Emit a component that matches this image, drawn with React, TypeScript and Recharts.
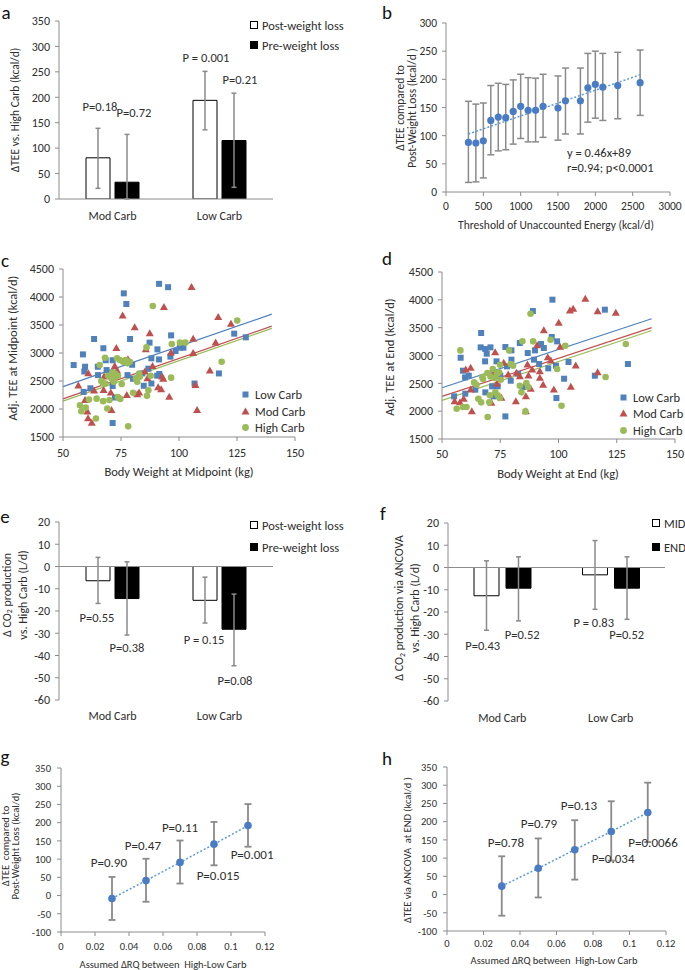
import React from "react";
import {
  BarChart,
  Bar,
  ScatterChart,
  Scatter,
  XAxis,
  YAxis,
  ErrorBar,
  ReferenceLine,
  ReferenceDot,
  Legend,
} from "recharts";

// ---------- data ----------
const CATS = ["Mod Carb", "Low Carb"];

// a: ΔTEE vs High Carb
const A_POST = [81, 194];
const A_POST_LO = [21, 136];
const A_POST_HI = [139, 251];
const A_PRE = [33, 115];
const A_PRE_LO = [0, 23];
const A_PRE_HI = [127, 208];
const A_TICKS = [0, 50, 100, 150, 200, 250, 300, 350];
const A_P = [
  { x: "Mod Carb", s: 0, y: 181, t: "P=0.18", dx: 2 },
  { x: "Mod Carb", s: 1, y: 171, t: "P=0.72", dx: 7 },
  { x: "Low Carb", s: 0, y: 279, t: "P = 0.001", dx: 1 },
  { x: "Low Carb", s: 1, y: 234, t: "P=0.21", dx: 6 },
];

// b: threshold sweep
const B_X = [300, 400, 500, 600, 700, 800, 900, 1000, 1100, 1200, 1300, 1500, 1600, 1800, 1900, 2000, 2100, 2300, 2600];
const B_Y = [88, 87, 91, 127, 133, 132, 143, 152, 145, 145, 152, 149, 162, 162, 185, 191, 186, 189, 194];
const B_LO = [17, 18, 25, 66, 73, 75, 85, 95, 89, 89, 97, 92, 103, 103, 124, 131, 127, 130, 136];
const B_HI = [161, 156, 158, 189, 193, 191, 199, 209, 203, 202, 209, 206, 220, 220, 246, 250, 246, 248, 252];
const B_TREND = [{ x: 300, y: 103 }, { x: 2600, y: 208 }];
const B_XTICKS = [0, 500, 1000, 1500, 2000, 2500, 3000];
const B_YTICKS = [0, 50, 100, 150, 200, 250, 300];
const B_NOTE = ["y = 0.46x+89", "r=0.94; p<0.0001"];

// c: midpoint
const C_LOW = [
  [54.6, 2785], [58.6, 2975], [59.5, 2755], [59.2, 2670], [58.9, 2305], [61.8, 2370], [63.4, 3250], [65, 2755],
  [65.1, 2605], [67.4, 3085], [68.4, 2870], [68.8, 2695], [71.4, 2870], [71.4, 2410], [71.4, 1750], [72.4, 2205],
  [76.2, 4065], [77.3, 3875], [77.8, 2605], [78.9, 3250], [79.8, 2790], [80.2, 2540], [84.2, 2635], [84.8, 2415],
  [86.8, 2720], [87.3, 3185], [88.1, 2905], [88.1, 2455], [90.6, 2595], [90.7, 3065], [91.4, 2885], [91.5, 2625],
  [91.4, 4235], [95.3, 4175], [96.3, 2935], [96.6, 3315], [98.5, 3035], [100.4, 3095], [101.9, 3095], [106.7, 2455],
  [117.2, 2635], [123.8, 3345], [128.8, 3280],
];
const C_MOD = [
  [56.6, 2415], [59.5, 2155], [60.5, 1950], [60.8, 1830], [60.9, 2635], [62.4, 1750], [63.4, 2325], [67.5, 2335],
  [67.7, 2575], [70.6, 2290], [70.9, 1980], [72.3, 2765], [73, 3085], [73.3, 2685], [75.7, 3665], [77.5, 2245],
  [78, 2885], [80.9, 3455], [82, 2260], [82.8, 2290], [85.3, 2665], [85.7, 3065], [86.4, 2545], [87.4, 3350],
  [88.6, 2765], [91, 2385], [92.3, 2350], [93.2, 2535], [93.5, 3820], [92.7, 2575], [95.8, 2215], [96.5, 3005],
  [105.4, 4175], [106.1, 3250], [106.1, 2995], [107.1, 2425], [107.8, 1980], [113.3, 2685], [115.8, 3185],
  [116.9, 3640], [122.4, 3520],
];
const C_HIGH = [
  [57.3, 2068], [57.9, 1960], [59.8, 2025], [61.2, 2170], [64.2, 1830], [64.5, 2185], [65.8, 2785], [66.5, 2500],
  [67.3, 2455], [67.3, 2140], [68.1, 2915], [68.3, 2455], [69.1, 2010], [69.4, 2595], [70, 2160], [70.9, 2545],
  [71.3, 2650], [71.9, 2485], [71.9, 2545], [72.4, 2635], [73.3, 2905], [73.7, 2595], [73.7, 2215], [74.5, 2875],
  [74.7, 2180], [75.3, 2445], [75.9, 2845], [77, 2875], [77.8, 2815], [78.1, 1690], [78.8, 2845], [80.2, 2290],
  [81.4, 2545], [82, 2485], [82.8, 2635], [83.1, 2575], [86, 3100], [86.2, 2235], [86.8, 2335], [87.8, 2595],
  [88.7, 3840], [96.6, 2560], [96.9, 3160], [100.4, 3185], [102.7, 3185], [118.4, 2845], [125.1, 3580],
];
const C_FIT_LOW = [{ x: 50, y: 2400 }, { x: 140, y: 3695 }];
const C_FIT_MOD = [{ x: 50, y: 2180 }, { x: 140, y: 3480 }];
const C_FIT_HIGH = [{ x: 50, y: 2140 }, { x: 140, y: 3440 }];

// d: end
const D_LOW = [
  [55.2, 2266], [58, 2960], [59, 2727], [59.9, 2607], [60, 2314], [61.5, 2637], [64.3, 2386], [66.8, 3404],
  [66.6, 3146], [68.6, 3116], [68.5, 2895], [68.6, 2338], [69.2, 3032], [70.8, 3146], [71.5, 2446], [72.2, 2266],
  [73.4, 2895], [73.9, 2446], [75, 2637], [77.2, 1906], [77.2, 3152], [77.9, 2805], [79.5, 2547], [79.8, 2925],
  [79.8, 3092], [82.7, 2673], [83.4, 3224], [84.7, 2434], [89, 3799], [86.8, 3044], [89.5, 2925], [89.9, 3092],
  [91.7, 2847], [92.5, 3206], [93.7, 3134], [95.6, 2769], [97.1, 3332], [97.4, 4003], [98.9, 2817], [99.4, 3254],
  [99.1, 2236], [102.4, 2583], [104.3, 2883], [115.6, 2637], [119.9, 3823], [129.8, 2847],
];
const D_MOD = [
  [55.4, 2176], [57.7, 2158], [59.3, 2218], [60.2, 2745], [62.3, 2775], [62.8, 1996], [62.3, 2386], [72.8, 3056],
  [73.6, 2493], [71.2, 2146], [72.2, 2697], [75.5, 2236], [76.5, 2865], [78.4, 2655], [81.7, 2176], [82, 2685],
  [83.4, 2625], [86, 1996], [86, 2266], [86.7, 2835], [87.1, 2637], [88.1, 2398], [88.7, 2745], [90.8, 3182],
  [92, 2715], [92, 2595], [93.7, 3452], [93.4, 2469], [95.4, 2967], [96.7, 2907], [98, 2386], [100.1, 3584],
  [100.7, 3152], [104.9, 3805], [106.3, 3835], [105.3, 2434], [107.4, 2817], [111.5, 4015], [116.8, 3793],
  [116.8, 2697], [124.6, 3763],
];
const D_HIGH = [
  [56.3, 2044], [57.9, 3092], [59, 2074], [60.5, 2074], [63.8, 2517], [64.8, 2475], [65.6, 2224], [66.8, 2158],
  [67.3, 2613], [67.6, 2577], [69.5, 2685], [69.6, 1894], [70.3, 2158], [70.6, 2284], [70.8, 2625], [71.8, 2757],
  [72.5, 2595], [72.9, 2338], [73.6, 2673], [73.9, 2284], [74.5, 2697], [74.9, 2835], [75.2, 2565], [74.8, 2236],
  [78.8, 3092], [79.5, 2847], [80.5, 2817], [84.5, 3254], [83.4, 2457], [84.1, 2338], [85.8, 1996], [86.2, 2505],
  [87, 2434], [88, 3751], [89.1, 3254], [96.6, 3284], [99.4, 2757], [101.3, 2098], [102.9, 3176], [120.2, 2613],
  [128.9, 3206],
];
const D_FIT_LOW = [{ x: 50, y: 2420 }, { x: 140, y: 3660 }];
const D_FIT_MOD = [{ x: 50, y: 2265 }, { x: 140, y: 3500 }];
const D_FIT_HIGH = [{ x: 50, y: 2195 }, { x: 140, y: 3450 }];
const W_TICKS = [50, 75, 100, 125, 150];
const TEE_TICKS = [1500, 2000, 2500, 3000, 3500, 4000, 4500];

// e: CO2 production
const E_POST = [-6.4, -15.2];
const E_POST_LO = [-16.6, -25.4];
const E_POST_HI = [4.1, -4.8];
const E_PRE = [-14.4, -28.2];
const E_PRE_LO = [-30.8, -44.6];
const E_PRE_HI = [2.1, -12.4];
const CO2_TICKS = [-60, -50, -40, -30, -20, -10, 0, 10, 20];
const E_P = [
  { x: "Mod Carb", s: 0, y: -22.9, t: "P=0.55", dx: -1 },
  { x: "Mod Carb", s: 1, y: -36.4, t: "P=0.38", dx: 0 },
  { x: "Low Carb", s: 0, y: -32.8, t: "P = 0.15", dx: -1 },
  { x: "Low Carb", s: 1, y: -51.2, t: "P=0.08", dx: 1 },
];

// f: CO2 via ANCOVA
const F_MID = [-12.7, -3.3];
const F_MID_LO = [-28.2, -18.8];
const F_MID_HI = [3.0, 12.1];
const F_END = [-9.3, -9.3];
const F_END_LO = [-24, -23.3];
const F_END_HI = [4.8, 4.8];
const F_P = [
  { x: "Mod Carb", s: 0, y: -35, t: "P=0.43", dx: -3.5 },
  { x: "Mod Carb", s: 1, y: -30, t: "P=0.52", dx: 4 },
  { x: "Low Carb", s: 0, y: -24.7, t: "P = 0.83", dx: -1 },
  { x: "Low Carb", s: 1, y: -30, t: "P=0.52", dx: 0 },
];

// g, h: assumed ΔRQ
const RQ = [0.03, 0.05, 0.07, 0.09, 0.11];
const G_Y = [-8, 41, 91, 141, 192];
const G_LO = [-67, -17, 33, 83, 134];
const G_HI = [51, 101, 151, 202, 251];
const H_Y = [23, 72, 123, 173, 225];
const H_LO = [-58, -8, 41, 93, 144];
const H_HI = [105, 154, 204, 256, 307];
const RQ_TICKS = [0, 0.02, 0.04, 0.06, 0.08, 0.1, 0.12];
const TEE2_TICKS = [-100, -50, 0, 50, 100, 150, 200, 250, 300, 350];
const G_P = [
  { x: 0.0282, y: 92, t: "P=0.90" },
  { x: 0.0482, y: 136, t: "P=0.47" },
  { x: 0.07, y: 188, t: "P=0.11" },
  { x: 0.0924, y: 56, t: "P=0.015" },
  { x: 0.1124, y: 112, t: "P=0.001" },
];
const H_P = [
  { x: 0.0323, y: 144, t: "P=0.78" },
  { x: 0.0504, y: 194, t: "P=0.79" },
  { x: 0.0723, y: 243, t: "P=0.13" },
  { x: 0.091, y: 100, t: "P=0.034" },
  { x: 0.1129, y: 144, t: "P=0.0066" },
];

// ---------- style ----------
const FONT = "Carlito, Calibri, Lato, 'Open Sans', sans-serif";
const TXT = "#2e2e2e";
const AXIS = "#8c8c8c";
const ERR = "#8a8a8a";
const BLUE = "#4f81bd";
const RED = "#c0504d";
const GREEN = "#9bbb59";
const DOT = "#4a7cc6";
const TREND = "#5b9bd5";

type Box = { x: number; y: number; w: number; h: number };
type Plot = { x0: number; y0: number; x1: number; y1: number };
type PLab = { x: string | number; s?: number; y: number; t: string; dx?: number };
type LegItem = { label: string; mark: React.ReactNode };

function frame(b: Box, p: Plot, yw: number, xh: number) {
  return {
    top: p.y0 - b.y,
    right: b.x + b.w - p.x1,
    bottom: b.y + b.h - p.y1 - xh,
    left: p.x0 - b.x - yw,
  };
}

const tickStyle = (size: number) => ({ fontSize: size, fill: TXT, fontFamily: FONT });

function pDot(p: PLab, shift: number, size: number, key: string, anchor = "middle") {
  return (
    <ReferenceDot
      key={key}
      x={p.x}
      y={p.y}
      r={0}
      fill="none"
      stroke="none"
      ifOverflow="visible"
      label={(lp: any) => {
        const vb = lp.viewBox || { x: 0, y: 0, width: 0, height: 0 };
        return (
          <text
            x={vb.x + (vb.width || 0) / 2 + shift + (p.dx || 0)}
            y={vb.y + (vb.height || 0) / 2}
            textAnchor={anchor}
            dominantBaseline="central"
            fontSize={size}
            fill={TXT}
            fontFamily={FONT}
          >
            {p.t}
          </text>
        );
      }}
    />
  );
}

function legend(box: Box, left: number, top: number, rowH: number, items: LegItem[], gap: number) {
  return (
    <Legend
      layout="vertical"
      align="center"
      verticalAlign="middle"
      wrapperStyle={{ left: left - box.x, top: top - box.y, width: "auto", height: "auto" }}
      content={() => (
        <div style={{ fontFamily: FONT, fontSize: 12.5, color: TXT }}>
          {items.map((it) => (
            <div key={it.label} style={{ display: "flex", alignItems: "center", height: rowH }}>
              <svg width={9} height={9} style={{ display: "block" }}>
                {it.mark}
              </svg>
              <span style={{ marginLeft: gap, whiteSpace: "nowrap" }}>{it.label}</span>
            </div>
          ))}
        </div>
      )}
    />
  );
}

const openBox = <rect x={0.5} y={0.5} width={7} height={7} fill="#fff" stroke="#000" />;
const fullBox = <rect x={0.5} y={0.5} width={7} height={7} fill="#000" stroke="#000" />;

const sq = (c: string, s: number) => (p: any) =>
  <rect x={p.cx - s / 2} y={p.cy - s / 2} width={s} height={s} fill={c} />;
const tri = (c: string) => (p: any) =>
  <polygon points={`${p.cx},${p.cy - 4.2} ${p.cx - 4},${p.cy + 2.8} ${p.cx + 4},${p.cy + 2.8}`} fill={c} />;
const circ = (c: string, r: number) => (p: any) => <circle cx={p.cx} cy={p.cy} r={r} fill={c} />;

const pairRows = (vals: number[], lo: number[], hi: number[]) =>
  vals.map((v, i) => [v - lo[i], hi[i] - v]);

// ---------- bar panels ----------
function BarPanel(props: {
  box: Box;
  plot: Plot;
  a: number[]; aLo: number[]; aHi: number[];
  b: number[]; bLo: number[]; bHi: number[];
  domain: [number, number];
  ticks: number[];
  size: number;
  gap: number;
  labels: PLab[];
  legendItems: LegItem[];
  legendAt: [number, number, number];
  zero: boolean;
  xMargin: number;
}) {
  const { box, plot, size, gap } = props;
  const yw = 40;
  const xh = 30;
  const ea = pairRows(props.a, props.aLo, props.aHi);
  const eb = pairRows(props.b, props.bLo, props.bHi);
  const rows = CATS.map((name, i) => ({ name, a: props.a[i], aErr: ea[i], b: props.b[i], bErr: eb[i] }));
  const shift = (size + gap) / 2;
  return (
    <div style={{ position: "absolute", left: box.x, top: box.y }}>
      <BarChart width={box.w} height={box.h} data={rows} margin={frame(box, plot, yw, xh)} barGap={gap} barSize={size}>
        <XAxis
          dataKey="name"
          height={xh}
          axisLine={props.zero ? false : { stroke: AXIS }}
          tickLine={false}
          tickMargin={props.xMargin}
          tick={tickStyle(12)}
          interval={0}
        />
        <YAxis
          type="number"
          width={yw}
          domain={props.domain}
          ticks={props.ticks}
          interval={0}
          allowDataOverflow
          axisLine={{ stroke: AXIS }}
          tickLine={{ stroke: AXIS }}
          tickSize={4}
          tickMargin={5}
          tick={tickStyle(12)}
        />
        <Bar dataKey="a" fill="#ffffff" stroke="#000" strokeWidth={1} isAnimationActive={false}>
          <ErrorBar dataKey="aErr" direction="y" width={2.5} stroke={ERR} strokeWidth={1.5} />
        </Bar>
        <Bar dataKey="b" fill="#000" stroke="#000" strokeWidth={1} isAnimationActive={false}>
          <ErrorBar dataKey="bErr" direction="y" width={2.5} stroke={ERR} strokeWidth={1.5} />
        </Bar>
        {props.zero && <ReferenceLine y={0} stroke={AXIS} strokeWidth={1.2} />}
        {props.labels.map((p, i) => pDot(p, p.s === 0 ? -shift : shift, 12.5, "p" + i))}
        {legend(box, props.legendAt[0], props.legendAt[1], props.legendAt[2], props.legendItems, 3)}
      </BarChart>
    </div>
  );
}

// ---------- scatter panels ----------
function BodyPanel(props: {
  box: Box;
  plot: Plot;
  low: number[][];
  mod: number[][];
  high: number[][];
  fits: { x: number; y: number }[][];
  legendAt: [number, number, number];
  xMargin: number;
}) {
  const { box, plot } = props;
  const yw = 40;
  const xh = 30;
  const toRows = (arr: number[][]) => arr.map(([x, y]) => ({ x, y }));
  return (
    <div style={{ position: "absolute", left: box.x, top: box.y }}>
      <ScatterChart width={box.w} height={box.h} margin={frame(box, plot, yw, xh)}>
        <XAxis
          type="number"
          dataKey="x"
          domain={[50, 150]}
          ticks={W_TICKS}
          interval={0}
          allowDataOverflow
          height={xh}
          axisLine={{ stroke: AXIS }}
          tickLine={{ stroke: AXIS }}
          tickSize={4}
          tickMargin={props.xMargin}
          tick={tickStyle(12)}
        />
        <YAxis
          type="number"
          dataKey="y"
          width={yw}
          domain={[1500, 4500]}
          ticks={TEE_TICKS}
          interval={0}
          allowDataOverflow
          axisLine={{ stroke: AXIS }}
          tickLine={{ stroke: AXIS }}
          tickSize={4}
          tickMargin={5}
          tick={tickStyle(12)}
        />
        <Scatter name="Low Carb" data={toRows(props.low)} fill={BLUE} shape={sq(BLUE, 6)} isAnimationActive={false} />
        <Scatter name="Mod Carb" data={toRows(props.mod)} fill={RED} shape={tri(RED)} isAnimationActive={false} />
        <Scatter name="High Carb" data={toRows(props.high)} fill={GREEN} shape={circ(GREEN, 3.3)} isAnimationActive={false} />
        <ReferenceLine segment={props.fits[0]} stroke={BLUE} strokeWidth={1.2} />
        <ReferenceLine segment={props.fits[1]} stroke={RED} strokeWidth={1.2} />
        <ReferenceLine segment={props.fits[2]} stroke={GREEN} strokeWidth={1.2} />
        {legend(
          box,
          props.legendAt[0],
          props.legendAt[1],
          props.legendAt[2],
          [
            { label: "Low Carb", mark: <rect x={1.5} y={1.5} width={6} height={6} fill={BLUE} /> },
            { label: "Mod Carb", mark: <polygon points="4.5,0.5 0.5,7.5 8.5,7.5" fill={RED} /> },
            { label: "High Carb", mark: <circle cx={4.5} cy={4.5} r={3.4} fill={GREEN} /> },
          ],
          5
        )}
      </ScatterChart>
    </div>
  );
}

function PanelB() {
  const box = { x: 342, y: 0, w: 343, h: 232 };
  const plot = { x0: 446, y0: 23, x1: 670, y1: 192 };
  const errs = pairRows(B_Y, B_LO, B_HI);
  const rows = B_X.map((x, i) => ({ x, y: B_Y[i], err: errs[i] }));
  return (
    <div style={{ position: "absolute", left: box.x, top: box.y }}>
      <ScatterChart width={box.w} height={box.h} margin={frame(box, plot, 40, 30)}>
        <XAxis
          type="number"
          dataKey="x"
          domain={[0, 3000]}
          ticks={B_XTICKS}
          interval={0}
          allowDataOverflow
          height={30}
          axisLine={{ stroke: AXIS }}
          tickLine={{ stroke: AXIS }}
          tickSize={4}
          tickMargin={6}
          tick={tickStyle(11.5)}
        />
        <YAxis
          type="number"
          dataKey="y"
          width={40}
          domain={[0, 300]}
          ticks={B_YTICKS}
          interval={0}
          allowDataOverflow
          axisLine={{ stroke: AXIS }}
          tickLine={{ stroke: AXIS }}
          tickSize={4}
          tickMargin={5}
          tick={tickStyle(11.5)}
        />
        <Scatter data={rows} fill={DOT} shape={circ(DOT, 3.6)} isAnimationActive={false}>
          <ErrorBar dataKey="err" direction="y" width={3.5} stroke={ERR} strokeWidth={1.5} />
        </Scatter>
        <ReferenceLine segment={B_TREND} stroke={TREND} strokeWidth={1.5} strokeDasharray="2 2" />
        <ReferenceDot
          x={1620}
          y={71}
          r={0}
          fill="none"
          stroke="none"
          label={(lp: any) => {
            const vb = lp.viewBox || { x: 0, y: 0 };
            return (
              <text x={vb.x} y={vb.y} fontSize={12.5} fill={TXT} fontFamily={FONT} dominantBaseline="central">
                {B_NOTE.map((s, i) => (
                  <tspan key={i} x={vb.x} dy={i === 0 ? 0 : 15}>
                    {s}
                  </tspan>
                ))}
              </text>
            );
          }}
        />
      </ScatterChart>
    </div>
  );
}

function RqPanel(props: { box: Box; plot: Plot; y: number[]; lo: number[]; hi: number[]; labels: PLab[]; xMargin: number }) {
  const { box, plot } = props;
  const errs = pairRows(props.y, props.lo, props.hi);
  const rows = RQ.map((x, i) => ({ x, y: props.y[i], err: errs[i] }));
  return (
    <div style={{ position: "absolute", left: box.x, top: box.y }}>
      <ScatterChart width={box.w} height={box.h} margin={frame(box, plot, 40, 30)}>
        <XAxis
          type="number"
          dataKey="x"
          domain={[0, 0.12]}
          ticks={RQ_TICKS}
          interval={0}
          allowDataOverflow
          height={30}
          axisLine={{ stroke: AXIS }}
          tickLine={{ stroke: AXIS }}
          tickSize={4}
          tickMargin={props.xMargin}
          tick={tickStyle(10.5)}
        />
        <YAxis
          type="number"
          dataKey="y"
          width={40}
          domain={[-100, 350]}
          ticks={TEE2_TICKS}
          interval={0}
          allowDataOverflow
          axisLine={{ stroke: AXIS }}
          tickLine={{ stroke: AXIS }}
          tickSize={4}
          tickMargin={6}
          tick={tickStyle(10.5)}
        />
        <Scatter
          data={rows}
          fill={DOT}
          shape={circ(DOT, 3.8)}
          line={{ stroke: TREND, strokeWidth: 1.5, strokeDasharray: "2 2" }}
          isAnimationActive={false}
        >
          <ErrorBar dataKey="err" direction="y" width={3.5} stroke={ERR} strokeWidth={1.8} />
        </Scatter>
        {props.labels.map((p, i) => pDot(p, 0, 13, "q" + i))}
      </ScatterChart>
    </div>
  );
}

// ---------- text overlays ----------
function Title(props: { x: number; y: number; lines: React.ReactNode[]; size?: number; lh?: number; rot?: boolean }) {
  const size = props.size || 11.5;
  return (
    <div
      style={{
        position: "absolute",
        left: props.x,
        top: props.y,
        transform: `translate(-50%, -50%)${props.rot ? " rotate(-90deg)" : ""}`,
        whiteSpace: "pre",
        textAlign: "center",
        fontSize: size,
        lineHeight: `${props.lh || Math.round(size * 1.15)}px`,
        color: TXT,
      }}
    >
      {props.lines.map((l, i) => (
        <div key={i}>{l}</div>
      ))}
    </div>
  );
}

const CO2 = (
  <>
    {"Δ CO"}
    <span style={{ fontSize: "0.65em", verticalAlign: "-0.25em" }}>2</span>
  </>
);

const LETTERS: [string, number, number][] = [
  ["a", 6, 13],
  ["b", 387, 13],
  ["c", 5, 261],
  ["d", 387, 259],
  ["e", 5, 517],
  ["f", 383, 514],
  ["g", 5, 757],
  ["h", 387, 759],
];

export default function App() {
  return (
    <div
      style={{
        position: "fixed",
        left: 0,
        top: 0,
        width: 685,
        height: 970,
        background: "#fff",
        overflow: "hidden",
        fontFamily: FONT,
        color: TXT,
      }}
    >
      <BarPanel
        box={{ x: 0, y: 0, w: 346, h: 232 }}
        plot={{ x0: 59, y0: 21, x1: 273, y1: 199 }}
        a={A_POST} aLo={A_POST_LO} aHi={A_POST_HI}
        b={A_PRE} bLo={A_PRE_LO} bHi={A_PRE_HI}
        domain={[0, 350]}
        ticks={A_TICKS}
        size={24}
        gap={5}
        labels={A_P}
        legendItems={[
          { label: "Post-weight loss", mark: openBox },
          { label: "Pre-weight loss", mark: fullBox },
        ]}
        legendAt={[250, 15, 20]}
        zero={false}
        xMargin={6}
      />
      <PanelB />
      <BodyPanel
        box={{ x: 0, y: 236, w: 342, h: 250 }}
        plot={{ x0: 63, y0: 269, x1: 295, y1: 437 }}
        low={C_LOW}
        mod={C_MOD}
        high={C_HIGH}
        fits={[C_FIT_LOW, C_FIT_MOD, C_FIT_HIGH]}
        legendAt={[241, 386, 16.7]}
        xMargin={7}
      />
      <BodyPanel
        box={{ x: 342, y: 236, w: 343, h: 250 }}
        plot={{ x0: 442, y0: 272, x1: 675, y1: 439 }}
        low={D_LOW}
        mod={D_MOD}
        high={D_HIGH}
        fits={[D_FIT_LOW, D_FIT_MOD, D_FIT_HIGH]}
        legendAt={[619, 389, 16.5]}
        xMargin={6}
      />
      <BarPanel
        box={{ x: 0, y: 490, w: 346, h: 240 }}
        plot={{ x0: 59, y0: 522, x1: 273, y1: 700 }}
        a={E_POST} aLo={E_POST_LO} aHi={E_POST_HI}
        b={E_PRE} bLo={E_PRE_LO} bHi={E_PRE_HI}
        domain={[-60, 20]}
        ticks={CO2_TICKS}
        size={24}
        gap={5}
        labels={E_P}
        legendItems={[
          { label: "Post-weight loss", mark: openBox },
          { label: "Pre-weight loss", mark: fullBox },
        ]}
        legendAt={[250, 514, 22]}
        zero={true}
        xMargin={5}
      />
      <BarPanel
        box={{ x: 342, y: 490, w: 343, h: 242 }}
        plot={{ x0: 448, y0: 523, x1: 665, y1: 701 }}
        a={F_MID} aLo={F_MID_LO} aHi={F_MID_HI}
        b={F_END} bLo={F_END_LO} bHi={F_END_HI}
        domain={[-60, 20]}
        ticks={CO2_TICKS}
        size={25}
        gap={7}
        labels={F_P}
        legendItems={[
          { label: "MID", mark: openBox },
          { label: "END", mark: fullBox },
        ]}
        legendAt={[652, 511, 24]}
        zero={true}
        xMargin={6}
      />
      <RqPanel
        box={{ x: 0, y: 740, w: 342, h: 230 }}
        plot={{ x0: 61, y0: 768, x1: 265, y1: 932 }}
        y={G_Y}
        lo={G_LO}
        hi={G_HI}
        labels={G_P}
        xMargin={7}
      />
      <RqPanel
        box={{ x: 342, y: 740, w: 343, h: 230 }}
        plot={{ x0: 447, y0: 767, x1: 666, y1: 931 }}
        y={H_Y}
        lo={H_LO}
        hi={H_HI}
        labels={H_P}
        xMargin={5}
      />

      <Title x={15} y={110} rot lines={["ΔTEE vs. High Carb (kcal/d)"]} />
      <Title x={406} y={108} rot lh={12} lines={["ΔTEE compared to", "Post-Weight Loss (kcal/d )"]} />
      <Title x={556} y={225} lines={["Threshold of Unaccounted Energy (kcal/d)"]} />
      <Title x={13} y={348} rot size={12.5} lines={["Adj. TEE at Midpoint (kcal/d)"]} />
      <Title x={179} y={472} size={12.5} lines={["Body Weight at Midpoint (kg)"]} />
      <Title x={390} y={357} rot size={12.5} lines={["Adj. TEE at End (kcal/d)"]} />
      <Title x={558} y={474} size={12.5} lines={["Body Weight at End (kg)"]} />
      <Title x={15} y={595} rot lh={13} size={12} lines={[<>{CO2} production</>, "vs. High Carb (L/d)"]} />
      <Title x={407} y={608} rot lh={12} size={12} lines={[<>{CO2} production via ANCOVA</>, "vs. High Carb (L/d)"]} />
      <Title x={11} y={846} rot size={10.5} lh={10} lines={["ΔTEE  compared to", "Post-Weight Loss (kcal/d)"]} />
      <Title x={163} y={965} size={10.5} lines={["Assumed ΔRQ between  High-Low Carb"]} />
      <Title x={408} y={850} rot size={10.5} lines={["ΔTEE via ANCOVA  at END (kcal/d )"]} />
      <Title x={554} y={961} size={10.5} lines={["Assumed ΔRQ between  High-Low Carb"]} />

      {LETTERS.map(([t, x, y]) => (
        <div
          key={t}
          style={{
            position: "absolute",
            left: x,
            top: y,
            transform: "translate(-50%, -50%)",
            fontSize: 19,
            lineHeight: "22px",
            color: "#111",
          }}
        >
          {t}
        </div>
      ))}
    </div>
  );
}
